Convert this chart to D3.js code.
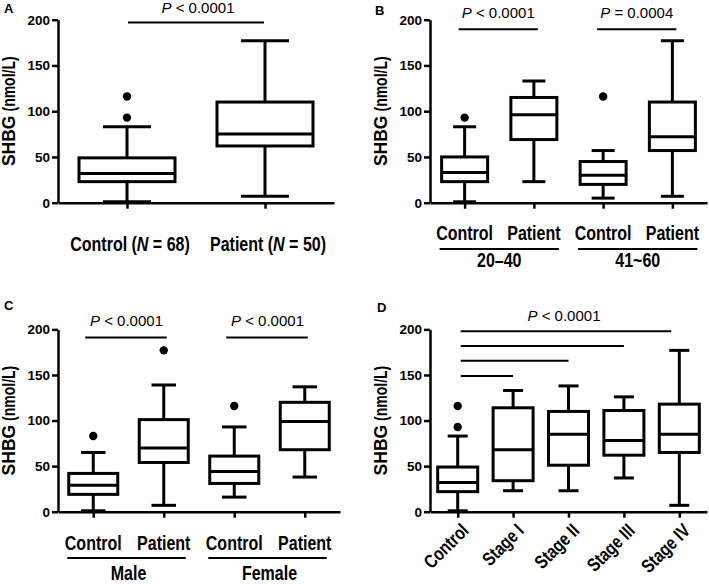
<!DOCTYPE html>
<html><head><meta charset="utf-8">
<script src="https://cdn.jsdelivr.net/npm/d3@7"></script>
<style>
body{margin:0;background:#fff}
svg{display:block}
text{font-family:"Liberation Sans",Arial,sans-serif;fill:#000}
</style>
</head><body>
<svg id="c" width="709" height="584"></svg>
<script>
// ---- data ----
const yTicks = [0, 50, 100, 150, 200];

const catA = ["Control", "Patient"];
const nA = [68, 50];
const boxA = [[1, 23, 32, 49, 83], [7, 62, 75, 110, 177]];   // min, Q1, median, Q3, max
const outA = [[93, 116], []];
const pA = ["< 0.0001"];

const catB = ["Control", "Patient", "Control", "Patient"];
const groupB = ["20–40", "41~60"];
const boxB = [[1, 23, 33, 50, 83], [23, 69, 96, 115, 133], [5, 20, 30, 45, 57], [7, 57, 72, 110, 177]];
const outB = [[93], [], [116], []];
const pB = ["< 0.0001", "= 0.0004"];

const catC = ["Control", "Patient", "Control", "Patient"];
const groupC = ["Male", "Female"];
const boxC = [[1, 19, 29, 42, 65], [7, 54, 70, 101, 139], [16, 31, 44, 61, 93], [38, 68, 99, 120, 137]];
const outC = [[83], [177], [116], []];
const pC = ["< 0.0001", "< 0.0001"];

const catD = ["Control", "Stage I", "Stage II", "Stage III", "Stage IV"];
const boxD = [[1, 22, 32, 49, 83], [23, 34, 68, 114, 133], [23, 51, 85, 110, 138], [37, 62, 78, 111, 126], [7, 65, 85, 118, 177]];
const outD = [[93, 116], [], [], [], []];
const pD = ["< 0.0001"];

// ---- drawing ----
const svg = d3.select("#c");
const NARROW = 0.8;

// bold condensed text (horizontal compression along the text direction)
function narrow(g, x, y, size, anchor, rot) {
  const w = g.append("g").attr("transform", `translate(${x},${y})${rot ? ` rotate(${rot})` : ""} scale(${NARROW},1)`);
  return w.append("text").attr("text-anchor", anchor).attr("font-weight", "bold").attr("font-size", size);
}

function panel(o) {
  const g = svg.append("g");
  const x = d3.scalePoint().domain(o.cats.map((d, i) => i)).range([o.left, o.right]).padding(0.5);
  const y = d3.scaleLinear().domain([0, 200]).range([o.bottom, o.top]);

  const ya = g.append("g").attr("transform", `translate(${o.left},0)`)
    .call(d3.axisLeft(y).tickValues(yTicks).tickSize(6).tickSizeOuter(0).tickPadding(2));
  ya.select(".domain").attr("stroke-width", 2.5);
  ya.selectAll(".tick line").attr("stroke-width", 2.5);
  ya.selectAll(".tick text").attr("font-size", 13.5).attr("font-weight", "bold")
    .attr("font-family", "Liberation Sans, Arial, sans-serif").attr("fill", "#000");

  const xa = g.append("g").attr("transform", `translate(0,${o.bottom})`)
    .call(d3.axisBottom(x).tickSize(6).tickSizeOuter(0).tickFormat(""));
  xa.select(".domain").attr("stroke-width", 2.5);
  xa.selectAll(".tick line").attr("stroke-width", 2.5);

  const bw = o.boxW, cw = bw / 2;
  o.boxes.forEach((b, i) => {
    const cx = x(i);
    const bg = g.append("g").attr("fill", "none").attr("stroke", "#000").attr("stroke-width", 3);
    bg.append("line").attr("x1", cx).attr("x2", cx).attr("y1", y(b[0])).attr("y2", y(b[1]));
    bg.append("line").attr("x1", cx).attr("x2", cx).attr("y1", y(b[3])).attr("y2", y(b[4]));
    bg.append("line").attr("x1", cx - cw / 2).attr("x2", cx + cw / 2).attr("y1", y(b[0])).attr("y2", y(b[0]));
    bg.append("line").attr("x1", cx - cw / 2).attr("x2", cx + cw / 2).attr("y1", y(b[4])).attr("y2", y(b[4]));
    bg.append("rect").attr("x", cx - bw / 2).attr("width", bw).attr("y", y(b[3])).attr("height", y(b[1]) - y(b[3])).attr("fill", "#fff");
    bg.append("line").attr("x1", cx - bw / 2).attr("x2", cx + bw / 2).attr("y1", y(b[2])).attr("y2", y(b[2]));
    o.outs[i].forEach(v => g.append("circle").attr("cx", cx).attr("cy", y(v)).attr("r", 4.2).attr("fill", "#000"));
  });

  // y label: "SHBG" bold, "(nmol/L)" bold condensed
  const lg = g.append("g").attr("transform", `translate(${o.ylx},${(o.top + o.bottom) / 2}) rotate(-90)`);
  const t1 = lg.append("text").attr("font-weight", "bold").attr("font-size", 17.5).text("SHBG");
  const l1 = t1.node().getComputedTextLength();
  const t2g = lg.append("g");
  const t2 = t2g.append("text").attr("font-weight", "bold").attr("font-size", 17.5).text("(nmol/L)");
  const l2 = t2.node().getComputedTextLength() * NARROW;
  const gap = 4, total = l1 + gap + l2;
  t1.attr("x", -total / 2);
  t2g.attr("transform", `translate(${-total / 2 + l1 + gap},0) scale(${NARROW},1)`);

  g.append("text").attr("x", o.letterX).attr("y", o.letterY).attr("font-weight", "bold").attr("font-size", 13).text(o.letter);
  return {g, x, y};
}

function pText(g, cx, yy, p) {
  const t = g.append("text").attr("x", cx).attr("y", yy).attr("text-anchor", "middle").attr("font-size", 15);
  t.append("tspan").attr("font-style", "italic").text("P");
  t.append("tspan").text(" " + p);
}
function sigLine(g, x1, x2, yy, w) {
  g.append("line").attr("x1", x1).attr("x2", x2).attr("y1", yy).attr("y2", yy).attr("stroke", "#000").attr("stroke-width", w || 2);
}

// Panel A
{
  const {g, x, y} = panel({cats: catA, boxes: boxA, outs: outA, left: 58, right: 334, top: 19.7, bottom: 202.7, boxW: 96, ylx: 15, letter: "A", letterX: 4, letterY: 13});
  catA.forEach((c, i) => {
    const t = narrow(g, x(i) + 3, 251, 20, "middle");
    t.append("tspan").text(c + " (");
    t.append("tspan").attr("font-style", "italic").text("N");
    t.append("tspan").text(" = " + nA[i] + ")");
  });
  sigLine(g, x(0) + 1, x(1) - 1, y(197));
  pText(g, (x(0) + x(1)) / 2 + 2, 13, pA[0]);
}

// Panel B
{
  const {g, x, y} = panel({cats: catB, boxes: boxB, outs: outB, left: 430, right: 707, top: 19.7, bottom: 202.7, boxW: 46, ylx: 387, letter: "B", letterX: 375, letterY: 15});
  catB.forEach((c, i) => narrow(g, x(i), 240, 20, "middle").text(c));
  groupB.forEach((gname, j) => {
    const a = x(2 * j), b = x(2 * j + 1);
    sigLine(g, a - 25, b + 25, 249, 2);
    narrow(g, (a + b) / 2, 267, 20, "middle").text(gname);
    sigLine(g, a - 6, b + 4, y(189.5));
    pText(g, (a + b) / 2 - 1, 18, pB[j]);
  });
}

// Panel C
{
  const {g, x, y} = panel({cats: catC, boxes: boxC, outs: outC, left: 58, right: 340, top: 329.4, bottom: 511.7, boxW: 49, ylx: 15, letter: "C", letterX: 4, letterY: 310});
  catC.forEach((c, i) => narrow(g, x(i), 550, 20, "middle").text(c));
  groupC.forEach((gname, j) => {
    const a = x(2 * j), b = x(2 * j + 1);
    sigLine(g, a - 26, b + 22, 558, 2);
    narrow(g, (a + b) / 2, 580, 20, "middle").text(gname);
    sigLine(g, a - 8, b + 3, y(191));
    pText(g, (a + b) / 2 - 2, 326, pC[j]);
  });
}

// Panel D
{
  const {g, x, y} = panel({cats: catD, boxes: boxD, outs: outD, left: 430, right: 707, top: 329.4, bottom: 511.7, boxW: 40, ylx: 387, letter: "D", letterX: 377, letterY: 312});
  catD.forEach((c, i) => narrow(g, x(i) + 12, 511.7 + 20, 19, "end", -45).text(c));
  const levels = [149, 165.7, 181.8, 198];
  [1, 2, 3, 4].forEach((k, j) => sigLine(g, x(0) + 3, x(k) - (k === 4 ? 8 : 0), y(levels[j]), 2));
  pText(g, 564, 321, pD[0]);
}
</script>
</body></html>
